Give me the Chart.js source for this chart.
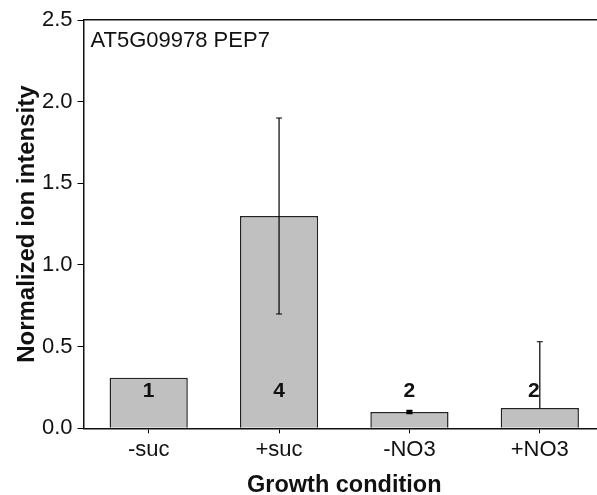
<!DOCTYPE html>
<html>
<head>
<meta charset="utf-8">
<title>AT5G09978 PEP7</title>
<script src="https://cdn.jsdelivr.net/npm/chart.js@4/dist/chart.umd.min.js"></script>
<style>
	html, body { margin:0; padding:0; background:#fff; overflow:hidden; }
	#contenedor { width:620px; height:495px; }
</style>
</head>
<body>
<div id="contenedor"><canvas id="grafico" width="620" height="495"></canvas></div>
<script>
//	Datos del grafico
var Condiciones=['-suc','+suc','-NO3','+NO3'];
var Medias=[0.31, 1.30, 0.10, 0.125];
var ErrorSup=[null, 1.90, 0.11, 0.53];
var ErrorInf=[null, 0.70, 0.09, null];
var NumMuestras=['1','4','2','2'];
var TicksY=[0.0, 0.5, 1.0, 1.5, 2.0, 2.5];
var Titulo='AT5G09978 PEP7';

var Fuente='"Liberation Sans", Arial, sans-serif';

//	Barras de error, numero de muestras y titulo interior
var pluginExtras={
	id:'extras',
	afterDatasetsDraw: function(chart, args, opts)
	{
		var ctx=chart.ctx;
		var y=chart.scales.y;
		var barras=chart.getDatasetMeta(0).data;
		ctx.save();

		//	barras de error
		ctx.strokeStyle='#000';
		ctx.lineWidth=1.2;
		for (var i=0;i<barras.length;++i)
		{
			if (ErrorSup[i]===null) continue;
			var x=barras[i].x;
			var yMed=y.getPixelForValue(Medias[i]);
			var yAlto=y.getPixelForValue(ErrorSup[i]);
			var yBajo=(ErrorInf[i]===null)?yMed:y.getPixelForValue(ErrorInf[i]);
			ctx.beginPath();
			ctx.moveTo(x, yAlto); ctx.lineTo(x, yBajo);
			ctx.moveTo(x-3, yAlto); ctx.lineTo(x+3, yAlto);
			if (ErrorInf[i]!==null) { ctx.moveTo(x-3, yBajo); ctx.lineTo(x+3, yBajo); }
			ctx.stroke();
			if (yBajo-yAlto<5)
			{
				ctx.fillStyle='#000';
				ctx.fillRect(x-3, yAlto, 6, yBajo-yAlto);
			}
		}

		//	numero de muestras
		ctx.fillStyle='#111';
		ctx.font='bold 21px '+Fuente;
		ctx.textAlign='center';
		ctx.textBaseline='middle';
		var yEtiq=y.getPixelForValue(opts.nivelEtiquetas);
		for (var i=0;i<barras.length;++i)
			ctx.fillText(NumMuestras[i], barras[i].x+opts.desplaza[i], yEtiq);

		//	titulo dentro del area
		ctx.font='22px '+Fuente;
		ctx.textAlign='left';
		ctx.fillText(Titulo, chart.chartArea.left+7, chart.chartArea.top+21);
		ctx.restore();
	}
};

var myChart=new Chart(document.getElementById('grafico').getContext('2d'), {
	type:'bar',
	data: {
		labels: Condiciones,
		datasets: [{
			data: Medias,
			backgroundColor:'#c0c0c0',
			borderColor:'#222',
			borderWidth:1.5,
			barPercentage:0.6,
			categoryPercentage:1.0
		}]
	},
	options: {
		responsive:false,
		animation:false,
		devicePixelRatio:1,
		layout: { padding: { left:10, right:15, top:20, bottom:0 } },
		plugins: {
			legend: { display:false },
			tooltip: { enabled:false },
			extras: { nivelEtiquetas:0.225, desplaza:[0,0,0,-6] }
		},
		scales: {
			x: {
				position:'bottom',
				grid: { display:true, drawOnChartArea:false, drawTicks:true, tickLength:5, color:'#000', offset:false },
				border: { display:true, color:'#111', width:1.5 },
				ticks: { color:'#111', padding:3, font:{ family:Fuente, size:22 } },
				title: { display:true, text:'Growth condition', color:'#111', padding:{ top:0, bottom:-5 }, font:{ family:Fuente, size:23.5, weight:'bold' } },
				afterFit: function(s) { s.height=66.7; }
			},
			x2: {
				position:'top',
				type:'category',
				labels: Condiciones,
				grid: { display:false },
				border: { display:true, color:'#111', width:1.5 },
				ticks: { display:false },
				afterFit: function(s) { s.height=0; }
			},
			y: {
				min:0,
				max:2.5,
				afterBuildTicks: function(s) { s.ticks=TicksY.map(function(v){ return { value:v }; }); },
				grid: { display:true, drawOnChartArea:false, drawTicks:true, tickLength:6, color:'#000' },
				border: { display:true, color:'#111', width:1.5 },
				ticks: { color:'#111', padding:5, font:{ family:Fuente, size:22 }, callback: function(v) { return Number(v).toFixed(1); } },
				title: { display:true, text:'Normalized ion intensity', color:'#111', padding:{ top:3, bottom:0 }, font:{ family:Fuente, size:24, weight:'bold' } },
				afterFit: function(s) { s.width=73.5; }
			}
		}
	},
	plugins: [pluginExtras]
});
</script>
</body>
</html>
